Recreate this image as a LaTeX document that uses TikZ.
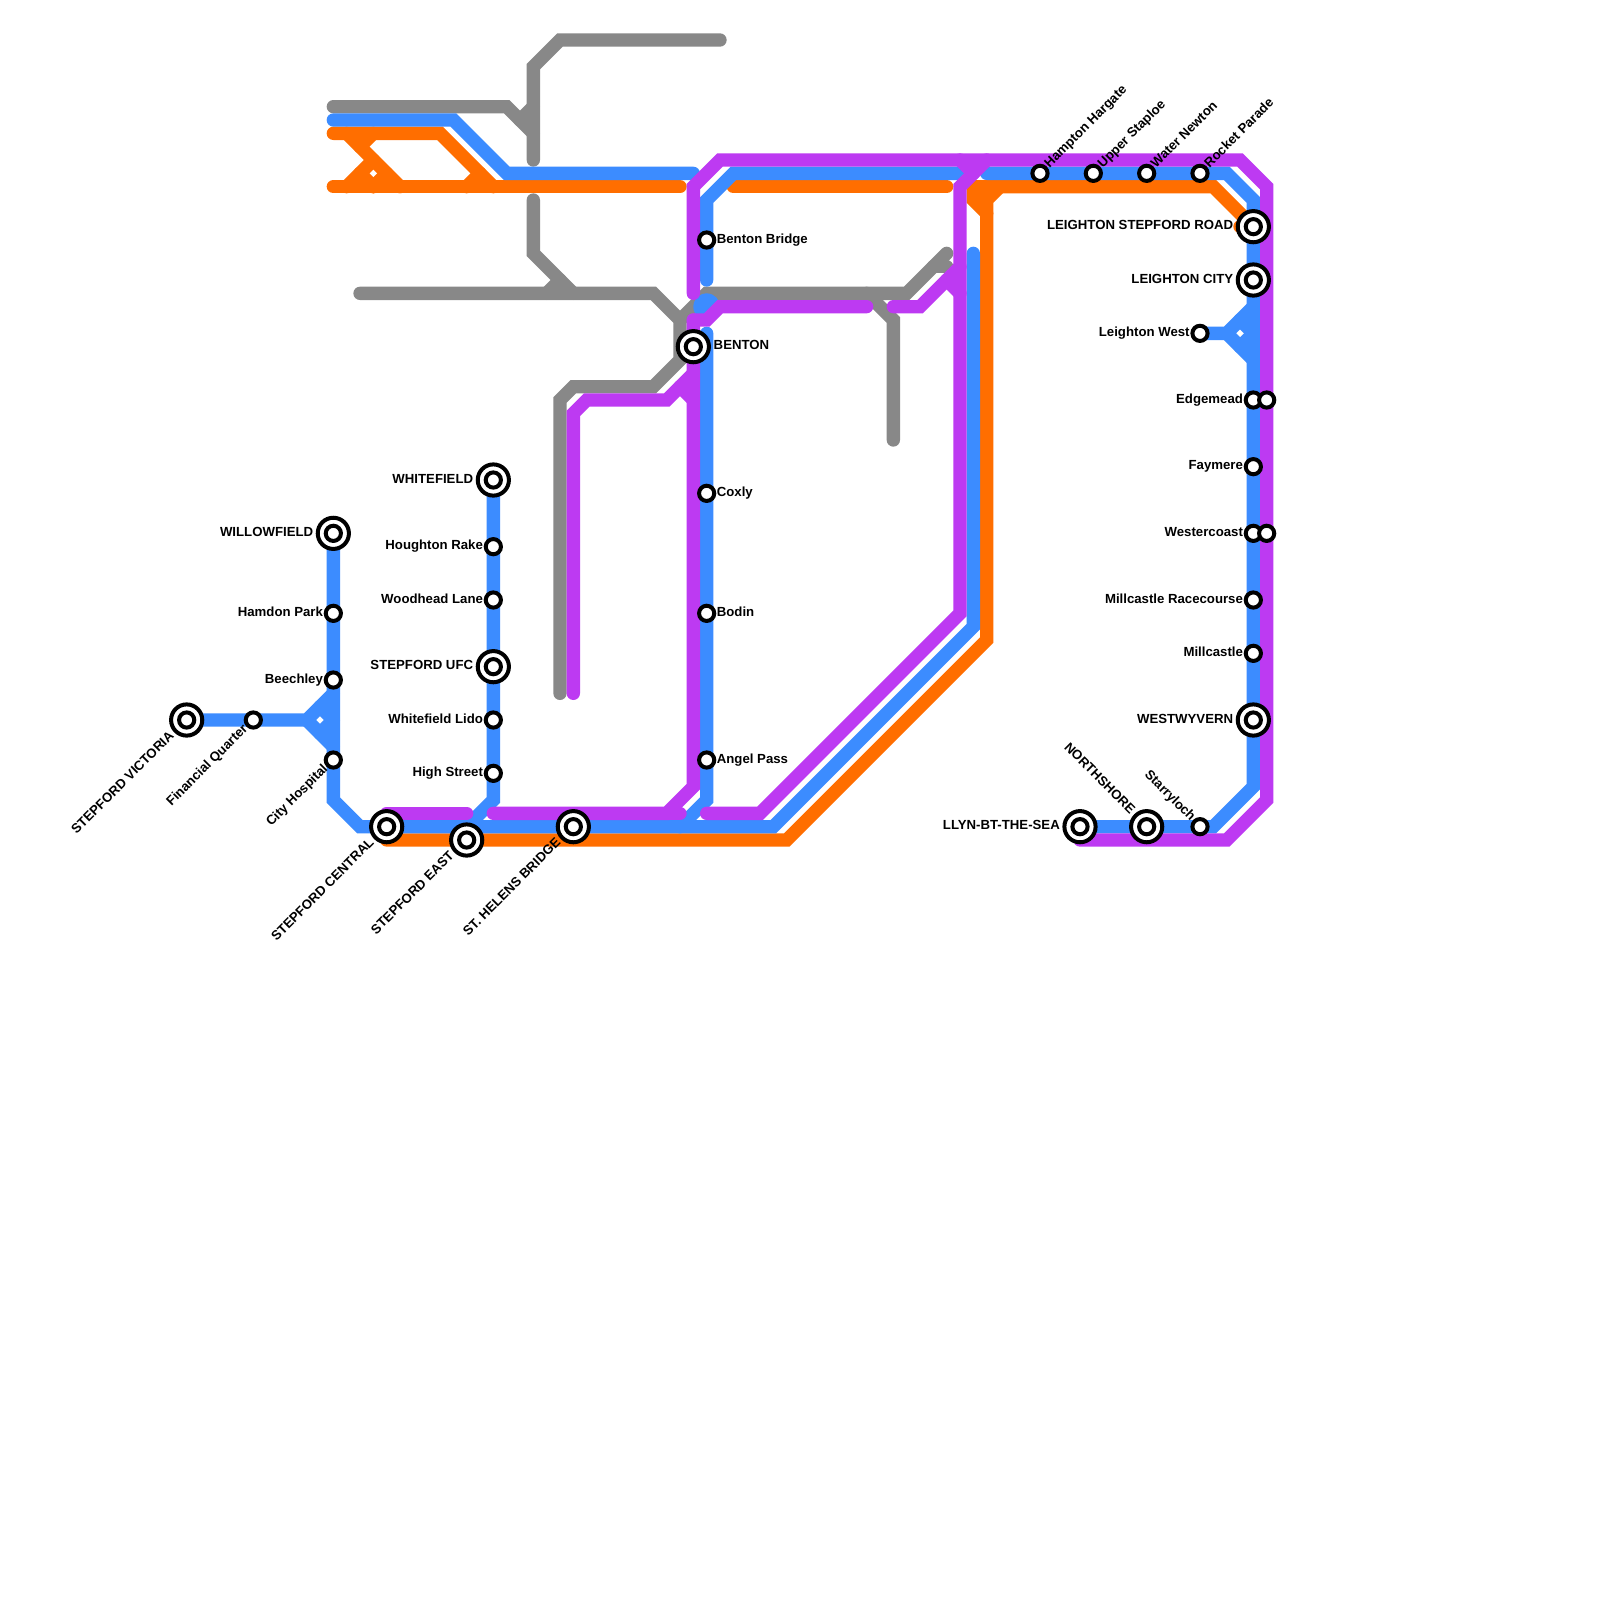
\documentclass[tikz,border=0pt]{standalone}
\usepackage{fontspec}
\setmainfont{Liberation Sans}[BoldFont={Liberation Sans Bold}]
\definecolor{cblue}{HTML}{3C8CFF}
\definecolor{corange}{HTML}{FF6E00}
\definecolor{cpurple}{HTML}{BD3AF2}
\definecolor{cgray}{HTML}{888888}
\tikzset{
  trk/.style={line width=6.6667pt,line cap=round,line join=miter,miter limit=10},
  gr/.style={trk,draw=cgray}, or/.style={trk,draw=corange},
  bl/.style={trk,draw=cblue}, pu/.style={trk,draw=cpurple},
  stn/.style={circle,draw=black,fill=white,line width=2pt,minimum size=7.6pt,inner sep=0pt},
  hubo/.style={circle,draw=black,fill=white,line width=2pt,minimum size=15.6pt,inner sep=0pt},
  hubi/.style={circle,draw=black,fill=white,line width=2pt,minimum size=7.6pt,inner sep=0pt},
  lab/.style={font=\fontsize{6.6pt}{7pt}\selectfont\bfseries,inner sep=0pt,text=black},
  rs/.style={lab,anchor=base west,xshift=4.9pt,yshift=-1.65pt},
  ls/.style={lab,anchor=base east,xshift=-5pt,yshift=-1.65pt},
  rh/.style={lab,anchor=base west,xshift=10pt,yshift=-1.65pt},
  lh/.style={lab,anchor=base east,xshift=-9.9pt,yshift=-1.65pt},
  urs/.style={lab,rotate=45,anchor=base west,xshift=4.9pt,yshift=-1.65pt},
  dls/.style={lab,rotate=45,anchor=base east,xshift=-5pt,yshift=-1.65pt},
  dlh/.style={lab,rotate=45,anchor=base east,xshift=-10pt,yshift=-1.65pt},
  uls/.style={lab,rotate=-45,anchor=base east,xshift=-5pt,yshift=-1.65pt},
  ulh/.style={lab,rotate=-45,anchor=base east,xshift=-10pt,yshift=-1.65pt},
}
\newcommand{\hubst}[2]{\node[hubo] (#1o) at (#2) {}; \node[hubi] (#1i) at (#2) {};}
\begin{document}
\begin{tikzpicture}[x=6.6667pt,y=-6.6667pt]
\useasboundingbox[fill=white] (0,0) rectangle (120,120);
% station positions
\coordinate (vic) at (14,54); \coordinate (fin) at (19,54);
\coordinate (wil) at (25,40); \coordinate (ham) at (25,46); \coordinate (bee) at (25,51); \coordinate (cit) at (25,57);
\coordinate (cen) at (29,62); \coordinate (eas) at (35,63); \coordinate (hel) at (43,62);
\coordinate (whi) at (37,36); \coordinate (hou) at (37,41); \coordinate (woo) at (37,45); \coordinate (ufc) at (37,50); \coordinate (lid) at (37,54); \coordinate (hig) at (37,58);
\coordinate (ben) at (52,26); \coordinate (bbr) at (53,18); \coordinate (cox) at (53,37); \coordinate (bod) at (53,46); \coordinate (ang) at (53,57);
\coordinate (hmp) at (78,13); \coordinate (upp) at (82,13); \coordinate (wat) at (86,13); \coordinate (roc) at (90,13);
\coordinate (lsr) at (94,17); \coordinate (lci) at (94,21); \coordinate (lwe) at (90,25);
\coordinate (edg) at (94,30); \coordinate (edb) at (95,30); \coordinate (fay) at (94,35); \coordinate (wes) at (94,40); \coordinate (web) at (95,40);
\coordinate (mir) at (94,45); \coordinate (mil) at (94,49); \coordinate (wyv) at (94,54);
\coordinate (lly) at (81,62); \coordinate (nor) at (86,62); \coordinate (sta) at (90,62);
% gray
\draw[gr] (54,3) -- (42,3) -- (40,5) -- (40,12);
\draw[gr] (25,8) -- (38,8) -- (40,10);
\draw[gr] (39,9) -- (40,8);
\draw[gr] (40,15) -- (40,19) -- (43,22);
\draw[gr] (41,22) -- (42,21);
\draw[gr] (27,22) -- (49,22) -- (51,24) -- (51,27) -- (49,29) -- (43,29) -- (42,30) -- (42,52);
\draw[gr] (51,24) -- (53,22) -- (68,22) -- (71,19);
\draw[gr] (70,20) -- (71,20);
\draw[gr] (65,22) -- (67,24) -- (67,33);
% orange
\draw[or] (25,10) -- (33,10) -- (37,14);
\draw[or] (25,14) -- (51,14);
\draw[or] (26,10) -- (30,14);
\draw[or] (26,14) -- (28,12);
\draw[or] (28,10) -- (27,11);
\draw[or] (27,13) -- (28,14);
\draw[or] (28,14) -- (29,13);
\draw[or] (35,14) -- (36,13);
\draw[or] (55,14) -- (71,14);
\draw[or] (lsr) -- (91,14) -- (73,14);
\draw[or] (73,14) -- (73,15) -- (74,16);
\draw[or] (73,14) -- (74,15);
\draw[or] (75,14) -- (74,15) -- (74,48) -- (59,63) -- (29,63);
\draw[or] (93,17) -- (lsr);
% blue
\draw[bl] (25,9) -- (34,9) -- (38,13) -- (52,13);
\draw[bl] (53,21) -- (bbr) -- (53,15) -- (55,13) -- (72,13);
\fill[cblue] (53,23) circle[radius=6.6667pt];
\draw[bl] (53,25) -- (ang) -- (53,60) -- (51,62);
\draw[bl] (73,19) -- (73,47) -- (58,62) -- (cen) -- (27,62) -- (25,60) -- (wil);
\draw[bl] (whi) -- (37,60) -- (35,62);
\draw[bl] (vic) -- (23,54) -- (25,52);
\draw[bl] (23,54) -- (25,56);
\draw[bl] (25,54) -- (24,55);
\draw[bl] (25,54) -- (24,53);
\draw[bl] (74,13) -- (92,13) -- (94,15) -- (94,59) -- (91,62) -- (lly);
\draw[bl] (lwe) -- (92,25) -- (94,23);
\draw[bl] (92,25) -- (94,27);
\draw[bl] (94,25) -- (93,24);
\draw[bl] (94,25) -- (93,26);
% purple
\draw[pu] (52,22) -- (52,14) -- (54,12) -- (93,12) -- (95,14) -- (95,60) -- (92,63) -- (81,63);
\draw[pu] (74,12) -- (72,14) -- (72,46) -- (57,61) -- (53,61);
\draw[pu] (72,12) -- (73,13);
\draw[pu] (65,23) -- (54,23) -- (53,24) -- (52,24);
\draw[pu] (52,24) -- (52,59) -- (50,61) -- (37,61);
\draw[pu] (50,61) -- (51,61);
\draw[pu] (29,61) -- (35,61);
\draw[pu] (43,52) -- (43,31) -- (44,30) -- (50,30) -- (52,28);
\draw[pu] (51,29) -- (52,30);
\draw[pu] (67,23) -- (69,23) -- (72,20);
\draw[pu] (71,21) -- (72,22);
% stations
\foreach \s in {fin,ham,bee,cit,hou,woo,lid,hig,bbr,cox,bod,ang,hmp,upp,wat,roc,lwe,edg,edb,fay,wes,web,mir,mil,sta}
  {\node[stn] (n\s) at (\s) {};}
\foreach \s in {vic,wil,cen,eas,hel,whi,ufc,ben,lsr,lci,wyv,lly,nor}
  {\hubst{n\s}{\s}}
% labels
\node[dlh] (tvic) at (vic) {STEPFORD VICTORIA};
\node[dls] (tfin) at (fin) {Financial Quarter};
\node[lh] (twil) at (wil) {WILLOWFIELD};
\node[ls] (tham) at (ham) {Hamdon Park};
\node[ls] (tbee) at (bee) {Beechley};
\node[dls] (tcit) at (cit) {City Hospital};
\node[dlh] (tcen) at (cen) {STEPFORD CENTRAL};
\node[dlh] (teas) at (eas) {STEPFORD EAST};
\node[dlh] (thel) at (hel) {ST. HELENS BRIDGE};
\node[lh] (twhi) at (whi) {WHITEFIELD};
\node[ls] (thou) at (hou) {Houghton Rake};
\node[ls] (twoo) at (woo) {Woodhead Lane};
\node[lh] (tufc) at (ufc) {STEPFORD UFC};
\node[ls] (tlid) at (lid) {Whitefield Lido};
\node[ls] (thig) at (hig) {High Street};
\node[rh] (tben) at (ben) {BENTON};
\node[rs] (tbbr) at (bbr) {Benton Bridge};
\node[rs] (tcox) at (cox) {Coxly};
\node[rs] (tbod) at (bod) {Bodin};
\node[rs] (tang) at (ang) {Angel Pass};
\node[urs] (thmp) at (hmp) {Hampton Hargate};
\node[urs] (tupp) at (upp) {Upper Staploe};
\node[urs] (twat) at (wat) {Water Newton};
\node[urs] (troc) at (roc) {Rocket Parade};
\node[lh] (tlsr) at (lsr) {LEIGHTON STEPFORD ROAD};
\node[lh] (tlci) at (lci) {LEIGHTON CITY};
\node[ls] (tlwe) at (lwe) {Leighton West};
\node[ls] (tedg) at (edg) {Edgemead};
\node[ls] (tfay) at (fay) {Faymere};
\node[ls] (twes) at (wes) {Westercoast};
\node[ls] (tmir) at (mir) {Millcastle Racecourse};
\node[ls] (tmil) at (mil) {Millcastle};
\node[lh] (twyv) at (wyv) {WESTWYVERN};
\node[lh] (tlly) at (lly) {LLYN-BT-THE-SEA};
\node[ulh] (tnor) at (nor) {NORTHSHORE};
\node[uls] (tsta) at (sta) {Starryloch};
\end{tikzpicture}
\end{document}
